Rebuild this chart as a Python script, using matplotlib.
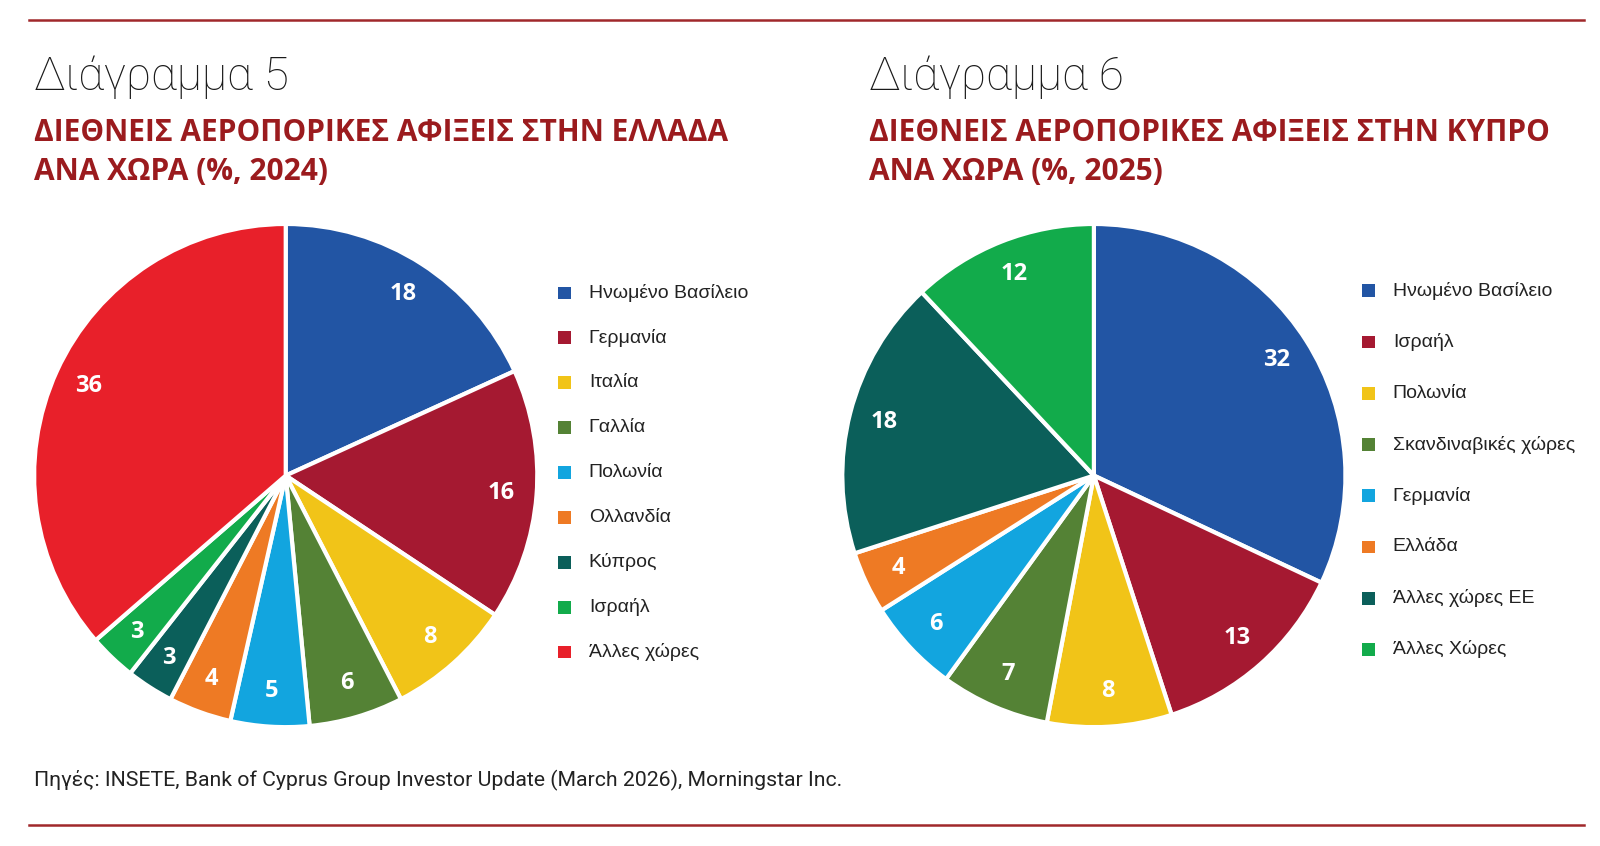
import matplotlib
matplotlib.use("Agg")
import matplotlib.pyplot as plt
from matplotlib.patches import Rectangle
from matplotlib.lines import Line2D

# ---- data ----
gr_labels = ["Ηνωμένο Βασίλειο", "Γερμανία", "Ιταλία", "Γαλλία", "Πολωνία",
             "Ολλανδία", "Κύπρος", "Ισραήλ", "Άλλες χώρες"]
gr_values = [18, 16, 8, 6, 5, 4, 3, 3, 36]
gr_colors = ["#2255A4", "#A51931", "#F1C418", "#548235", "#12A5DF",
             "#EE7A24", "#0B5F5A", "#12AB4B", "#E8202A"]

cy_labels = ["Ηνωμένο Βασίλειο", "Ισραήλ", "Πολωνία", "Σκανδιναβικές χώρες",
             "Γερμανία", "Ελλάδα", "Άλλες χώρες ΕΕ", "Άλλες Χώρες"]
cy_values = [32, 13, 8, 7, 6, 4, 18, 12]
cy_colors = ["#2255A4", "#A51931", "#F1C418", "#548235", "#12A5DF",
             "#EE7A24", "#0B5F5A", "#12AB4B"]

titles = ["Διάγραμμα 5", "Διάγραμμα 6"]
subtitles = [("ΔΙΕΘΝΕΙΣ ΑΕΡΟΠΟΡΙΚΕΣ ΑΦΙΞΕΙΣ ΣΤΗΝ ΕΛΛΑΔΑ", "ΑΝΑ ΧΩΡΑ (%, 2024)"),
             ("ΔΙΕΘΝΕΙΣ ΑΕΡΟΠΟΡΙΚΕΣ ΑΦΙΞΕΙΣ ΣΤΗΝ ΚΥΠΡΟ", "ΑΝΑ ΧΩΡΑ (%, 2025)")]
source = "Πηγές: INSETE, Bank of Cyprus Group Investor Update (March 2026), Morningstar Inc."

SANS = ["Liberation Sans", "DejaVu Sans"]
BOLD = ["Open Sans", "DejaVu Sans"]
ROBOTO = ["Roboto", "DejaVu Sans"]
DARKRED = "#9B1B1E"

# layout grid (reference measured on a 1568 x 829 grid)
W, H = 1568, 829
fig = plt.figure(figsize=(16, 8.46), dpi=100)
fig.patch.set_facecolor("white")

def fx(x):
    return x / W

def fy(y):
    return 1 - y / H

# horizontal rules
for yy in (20, 808):
    fig.add_artist(Line2D([fx(28), fx(1552)], [fy(yy), fy(yy)],
                          color="#A0282B", lw=1.8, transform=fig.transFigure))

def draw_panel(cx, values, labels, colors, title, subtitle, tx,
               leg_x, leg_y0, leg_dy):
    R = 249
    ax = fig.add_axes([fx(cx - R), fy(466 + R), R * 2 / W, R * 2 / H])
    wedges, texts = ax.pie(values, colors=colors, startangle=90, counterclock=False,
                           labels=[str(v) for v in values], labeldistance=0.86,
                           wedgeprops=dict(edgecolor="white", linewidth=3),
                           textprops=dict(color="white", fontsize=17,
                                          fontweight="bold", family=BOLD))
    for t in texts:
        t.set_ha("center")
        t.set_va("center")
    ax.set_xlim(-1.01, 1.01)
    ax.set_ylim(-1.01, 1.01)
    ax.set_aspect("equal")
    ax.axis("off")

    fig.text(fx(tx), fy(88), title, fontsize=33, family=ROBOTO,
             fontweight="light", color="#1a1a1a", ha="left", va="baseline")
    fig.text(fx(tx), fy(138), subtitle[0], fontsize=21.5, family=BOLD,
             fontweight="bold", color=DARKRED, ha="left", va="baseline")
    fig.text(fx(tx), fy(176), subtitle[1], fontsize=21.5, family=BOLD,
             fontweight="bold", color=DARKRED, ha="left", va="baseline")

    for i, (w, lab) in enumerate(zip(wedges, labels)):
        y = leg_y0 + i * leg_dy
        s = 12.5
        fig.add_artist(Rectangle((fx(leg_x), fy(y + s / 2)), s / W, s / H,
                                 facecolor=w.get_facecolor(), edgecolor="none",
                                 transform=fig.transFigure))
        fig.text(fx(leg_x + 30), fy(y), lab, fontsize=14, family=SANS,
                 color="#222222", ha="left", va="center")

draw_panel(280, gr_values, gr_labels, gr_colors, titles[0], subtitles[0], 33,
           547, 287, 44.0)
draw_panel(1072, cy_values, cy_labels, cy_colors, titles[1], subtitles[1], 852,
           1335, 285, 50.2)

fig.text(fx(33), fy(765), source, fontsize=15.3, family=ROBOTO,
         color="#222222", ha="left", va="center")

fig.savefig("out.png", dpi=100, facecolor="white")
